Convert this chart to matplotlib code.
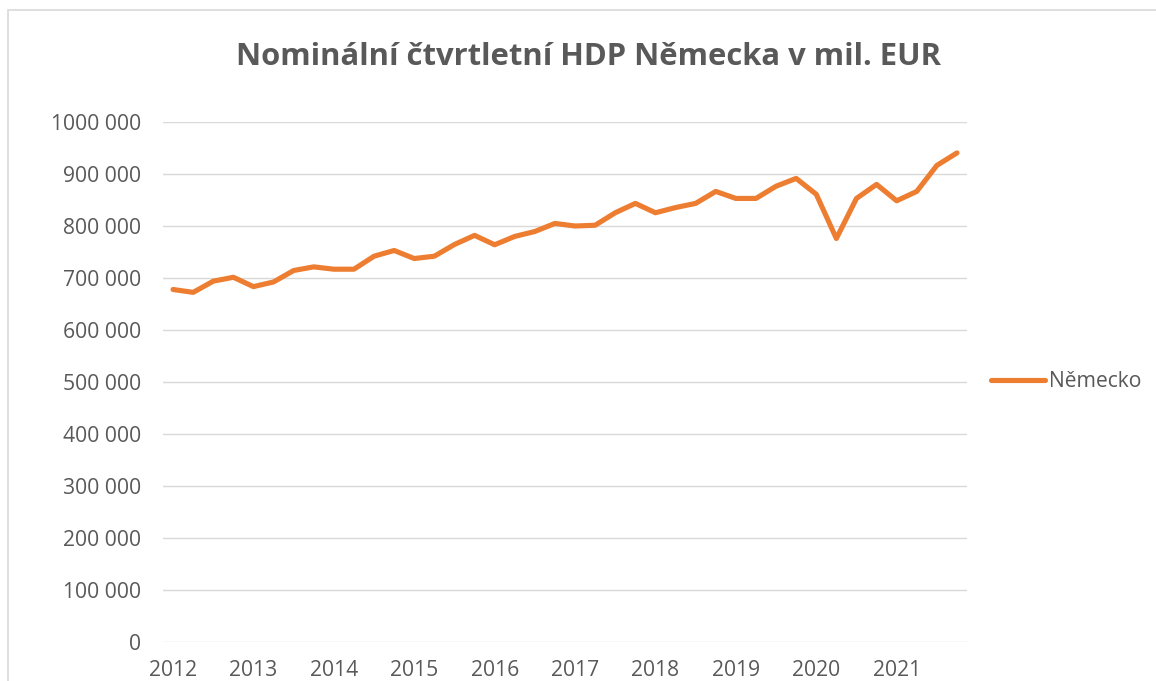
import numpy as np
import matplotlib.pyplot as plt
from matplotlib.patches import Rectangle
from matplotlib.ticker import FuncFormatter

# Nominální čtvrtletní HDP Německa (mil. EUR), 2012Q1 - 2021Q4
roky = ["2012", "2013", "2014", "2015", "2016", "2017", "2018", "2019", "2020", "2021"]
hdp = [
    677500, 672000, 693500, 701000,
    683000, 692000, 714000, 721000,
    716500, 716500, 741500, 752500,
    737000, 741500, 764000, 781500,
    763500, 779500, 789000, 804500,
    799500, 801000, 825000, 843000,
    825000, 835000, 843000, 866000,
    852500, 852500, 876000, 891000,
    860500, 775500, 852500, 879500,
    848000, 866000, 916000, 940000,
]

seda = "#595959"
oranzova = "#ED7D31"
mrizka = "#D9D9D9"

plt.rcParams['font.family'] = ['Open Sans', 'DejaVu Sans']

fig = plt.figure(figsize=(11.56, 6.81), dpi=100)
ax = fig.add_axes([163 / 1156, 1 - 642 / 681, (967 - 163) / 1156, (642 - 121.7) / 681])

x = np.arange(len(hdp))
ax.plot(x, hdp, color=oranzova, linewidth=3.7, solid_capstyle='round',
        solid_joinstyle='round', label="Německo", zorder=3)

ax.set_xlim(-0.5, len(hdp) - 0.5)
ax.set_ylim(0, 1000000)
ax.set_yticks(np.arange(0, 1000001, 100000))
ax.yaxis.set_major_formatter(FuncFormatter(
    lambda v, p: "0" if v < 1000 else f"{int(v // 1000)} {int(v % 1000):03d}"))
ax.set_xticks(x[::4])
ax.set_xticklabels(roky)

ax.grid(axis='y', color=mrizka, linewidth=1.0)
ax.set_axisbelow(True)
for s in ax.spines.values():
    s.set_visible(False)
ax.tick_params(axis='both', length=0, labelsize=15.2, labelcolor=seda)
ax.tick_params(axis='y', pad=16)
ax.tick_params(axis='x', pad=13)

ax.legend(loc='center left', bbox_to_anchor=(1.006, 0.5), frameon=False,
          fontsize=15.2, labelcolor=seda, handlelength=2.55, handletextpad=0.22)

fig.text(588 / 1156, 1 - 57 / 681, "Nominální čtvrtletní HDP Německa v mil. EUR",
         ha='center', va='center', fontsize=22.3, fontweight='bold', color=seda)

# rámeček grafu
fig.patches.append(Rectangle((8 / 1156, -0.1), 1.2, 1 - 10 / 681 + 0.1,
                             transform=fig.transFigure, fill=False,
                             edgecolor=mrizka, linewidth=1.2))

fig.savefig("out.png", dpi=100)
